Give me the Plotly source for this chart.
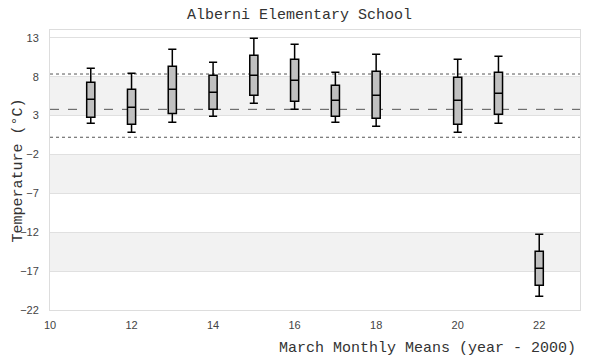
import plotly.graph_objects as go

years = [11, 12, 13, 14, 15, 16, 17, 18, 20, 21, 22]
upper = [9.07, 8.43, 11.52, 9.84, 12.93, 12.16, 8.56, 10.87, 10.23, 10.62, -12.26]
q3 = [7.27, 6.37, 9.33, 8.17, 10.74, 10.23, 6.89, 8.69, 7.92, 8.56, -14.45]
median = [5.09, 4.06, 6.37, 5.99, 8.17, 7.53, 4.96, 5.60, 4.96, 5.86, -16.63]
q1 = [2.77, 1.87, 3.25, 3.80, 5.60, 4.83, 2.90, 2.65, 1.87, 3.16, -18.82]
lower = [2.00, 0.85, 2.13, 2.90, 4.57, 3.80, 2.13, 1.62, 0.85, 2.00, -20.23]

ref_mean = 3.8
ref_high = 8.34
ref_low = 0.21

bands = [(3, 8), (-7, -2), (-17, -12)]

mono = "Liberation Mono, DejaVu Sans Mono, monospace"
sans = "Liberation Sans, Arial, sans-serif"

fig = go.Figure()
fig.add_trace(go.Box(
    x=years, q1=q1, median=median, q3=q3,
    lowerfence=lower, upperfence=upper,
    fillcolor="#c0c0c0",
    line=dict(color="black", width=1.5),
    width=0.2, whiskerwidth=1,
    boxpoints=False, showlegend=False,
))

shapes = []
for lo, hi in bands:
    shapes.append(dict(type="rect", xref="paper", yref="y", x0=0, x1=1, y0=lo, y1=hi,
                       fillcolor="#f2f2f2", line=dict(width=0), layer="below"))
shapes.append(dict(type="line", xref="paper", yref="y", x0=0, x1=1, y0=ref_high, y1=ref_high,
                   line=dict(color="#555", width=1, dash="dot"), layer="below"))
shapes.append(dict(type="line", xref="paper", yref="y", x0=0, x1=1, y0=ref_low, y1=ref_low,
                   line=dict(color="#555", width=1, dash="dot"), layer="below"))
shapes.append(dict(type="line", xref="paper", yref="y", x0=0, x1=1, y0=ref_mean, y1=ref_mean,
                   line=dict(color="#555", width=1, dash="dash"), layer="below"))

fig.update_layout(
    width=600, height=360,
    margin=dict(l=42, r=28, t=22, b=58),
    paper_bgcolor="white", plot_bgcolor="white",
    title=dict(text="Alberni Elementary School", x=0.486, xref="container", xanchor="center",
               y=0.983, yref="container", yanchor="middle",
               font=dict(family=mono, size=15, color="#333")),
    shapes=shapes,
    xaxis=dict(range=[10, 23], tickmode="linear", tick0=10, dtick=2, showgrid=False,
               zeroline=False, showline=True, linecolor="#ddd", mirror=True, automargin=False,
               ticks="", ticklabelstandoff=5,
               tickfont=dict(family=sans, size=11, color="#444")),
    yaxis=dict(range=[-22, 14], tickmode="linear", tick0=-22, dtick=5, showgrid=True,
               gridcolor="#e0e0e0", zeroline=False, showline=True, linecolor="#ddd", mirror=True,
               automargin=False, ticks="", ticklabelstandoff=8,
               tickfont=dict(family=sans, size=11, color="#444")),
    annotations=[
        dict(text="March Monthly Means (year - 2000)", xref="paper", yref="paper",
             x=0.996, y=-0.139, xanchor="right", yanchor="middle", showarrow=False,
             font=dict(family=mono, size=15, color="#333")),
        dict(text="Temperature (°C)", xref="paper", yref="paper",
             x=-0.0595, y=0.5, xanchor="center", yanchor="middle", textangle=-90, showarrow=False,
             font=dict(family=mono, size=15, color="#333")),
    ],
)

fig.write_html("out.html")
